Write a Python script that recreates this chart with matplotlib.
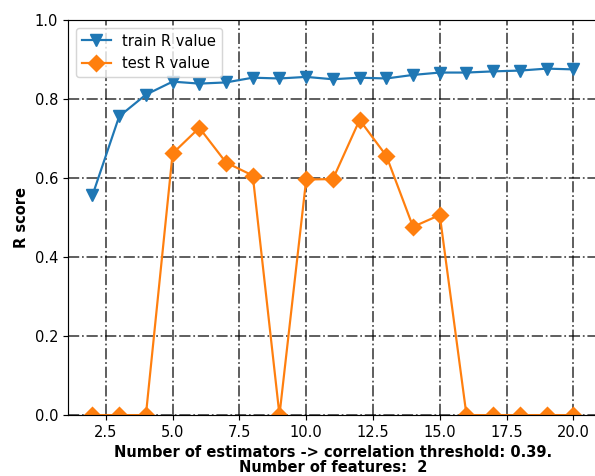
import numpy as np
import matplotlib.pyplot as plt

n_estimators = list(range(2, 21))
train_r = [0.557, 0.757, 0.812, 0.845, 0.840, 0.843, 0.855, 0.853, 0.857, 0.851,
           0.855, 0.853, 0.862, 0.868, 0.868, 0.871, 0.873, 0.878, 0.876]
test_r = [0.0, 0.0, 0.0, 0.663, 0.728, 0.640, 0.607, 0.0, 0.597, 0.598,
          0.748, 0.657, 0.477, 0.507, 0.0, 0.0, 0.0, 0.0, 0.0]

dpi = 105
fig = plt.figure(figsize=(595 / dpi, 476 / dpi), dpi=dpi)
# right edge of the axes runs just past the image, as in the original
ax = fig.add_axes([0.115, 0.128, 0.889, 0.829])
ax.plot(n_estimators, train_r, marker="v", markersize=8, label="train R value")
ax.plot(n_estimators, test_r, marker="D", markersize=7.5, label="test R value")
ax.set_ylim(0, 1.0)
ax.grid(True, color="black", linestyle="-.", linewidth=1.2, alpha=0.7)
ax.set_xlabel("Number of estimators -> correlation threshold: 0.39.\nNumber of features:  2",
              fontweight="bold", labelpad=3, linespacing=1.0)
ax.set_ylabel("R score", fontweight="bold")
ax.legend(loc="upper left")
fig.savefig("out.png", dpi=dpi)
